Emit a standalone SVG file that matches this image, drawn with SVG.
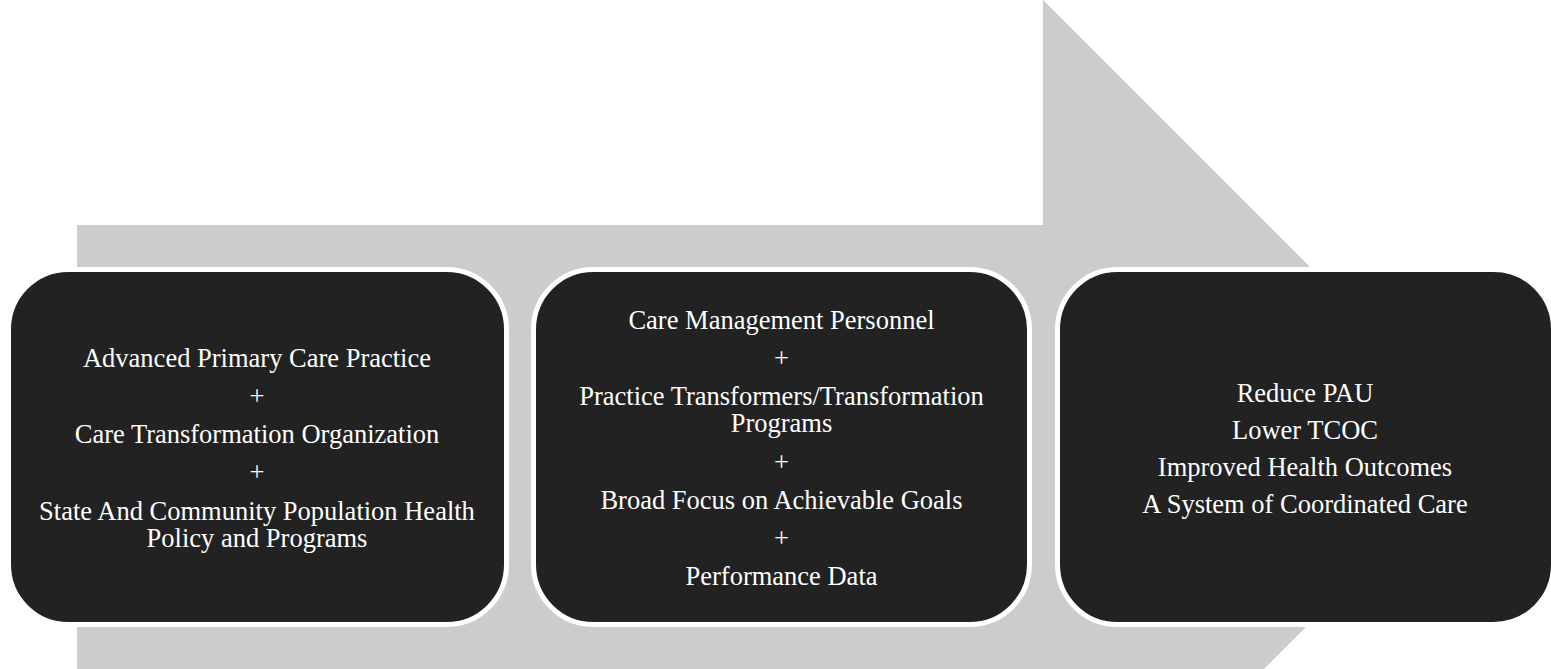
<svg xmlns="http://www.w3.org/2000/svg" width="1551" height="669" viewBox="0 0 1551 669">
<style>
.box{fill:#222222;stroke:#ffffff;stroke-width:5}
.t{font-family:"Liberation Serif","Times New Roman",serif;font-size:26.5px;fill:#ffffff;text-anchor:middle}
</style>
<rect width="1551" height="669" fill="#ffffff"/>
<g id="arrow">
<polygon points="77,225 1043,225 1043,0 1488,445 1043,890 1043,670 77,670" fill="#cccccc"/>
</g>
<g id="connectors"></g>
<g id="node1">
<rect class="box" x="8.5" y="269.5" width="498" height="355" rx="60" ry="60"/>
<text class="t" x="257" y="367">Advanced Primary Care Practice</text>
<text class="t" x="257" y="405">+</text>
<text class="t" x="257" y="443">Care Transformation Organization</text>
<text class="t" x="257" y="481">+</text>
<text class="t" x="257" y="520">State And Community Population Health</text>
<text class="t" x="257" y="547">Policy and Programs</text>
</g>
<g id="node2">
<rect class="box" x="533.5" y="269.5" width="496" height="355" rx="60" ry="60"/>
<text class="t" x="781.5" y="329">Care Management Personnel</text>
<text class="t" x="781.5" y="367">+</text>
<text class="t" x="781.5" y="405">Practice Transformers/Transformation</text>
<text class="t" x="781.5" y="432">Programs</text>
<text class="t" x="781.5" y="471">+</text>
<text class="t" x="781.5" y="509">Broad Focus on Achievable Goals</text>
<text class="t" x="781.5" y="547">+</text>
<text class="t" x="781.5" y="585">Performance Data</text>
</g>
<g id="node3">
<rect class="box" x="1057.5" y="269.5" width="496" height="355" rx="60" ry="60"/>
<text class="t" x="1305" y="402">Reduce PAU</text>
<text class="t" x="1305" y="439">Lower TCOC</text>
<text class="t" x="1305" y="476">Improved Health Outcomes</text>
<text class="t" x="1305" y="513">A System of Coordinated Care</text>
</g>
</svg>
